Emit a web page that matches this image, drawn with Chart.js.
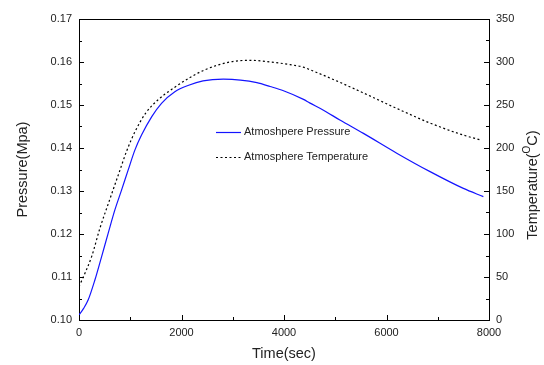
<!DOCTYPE html>
<html>
<head>
<meta charset="utf-8">
<script src="https://cdn.jsdelivr.net/npm/chart.js@4.4.0/dist/chart.umd.min.js"></script>
<style>
  html, body { margin: 0; padding: 0; background: #fff; }
  #wrap { width: 544px; height: 365px; }
</style>
</head>
<body>
<div id="wrap"><canvas id="chart" width="544" height="365"></canvas></div>
<script>
// === data ===
const timePressure = [0, 90, 180, 310, 440, 570, 700, 830, 960, 1090, 1220, 1420, 1610, 1870, 2140, 2420, 2815, 3150, 3470, 3730, 3990, 4380, 4500, 4770, 5090, 5550, 6200, 6850, 7500, 7890];
const pressure = [0.1012, 0.1027, 0.1047, 0.1093, 0.1147, 0.1202, 0.1256, 0.1302, 0.1349, 0.1395, 0.1430, 0.1473, 0.1504, 0.1531, 0.1546, 0.1556, 0.1560, 0.1558, 0.1552, 0.1543, 0.1533, 0.1513, 0.1505, 0.1488, 0.1465, 0.1434, 0.1388, 0.1345, 0.1306, 0.1287];

const timeTemp = [0, 84, 248, 410, 605, 780, 927, 1093, 1307, 1561, 1853, 2166, 2458, 2946, 3336, 3726, 4117, 4376, 4507, 5028, 5550, 6200, 6850, 7500, 7860];
const temperature = [39, 50, 74, 107, 141, 171, 196, 219, 241, 257, 270, 282, 291, 300, 302, 300, 297, 294, 291, 278, 264, 246, 229, 215, 209];

const xTicks = [0, 2000, 4000, 6000, 8000];
const pressureTicks = [0.10, 0.11, 0.12, 0.13, 0.14, 0.15, 0.16, 0.17];
const tempTicks = [0, 50, 100, 150, 200, 250, 300, 350];

const tickFont = { family: 'Liberation Sans, Arial, sans-serif', size: 11 };
const titleFont = { family: 'Liberation Sans, Arial, sans-serif', size: 14.5 };

function midpoints(arr) {
  const out = [];
  for (let i = 0; i < arr.length - 1; i++) out.push((arr[i] + arr[i + 1]) / 2);
  return out;
}

// inward ticks + frame top line
const frameTicks = {
  id: 'frameTicks',
  afterDraw(chart) {
    const ctx = chart.ctx;
    const a = chart.chartArea;
    ctx.save();
    ctx.strokeStyle = '#000';
    ctx.lineWidth = 1;
    ctx.beginPath();
    ctx.moveTo(a.left, a.top + 0.5);
    ctx.lineTo(a.right, a.top + 0.5);
    const sx = chart.scales.x;
    xTicks.forEach(v => { const p = Math.round(sx.getPixelForValue(v)) + 0.5; ctx.moveTo(p, a.bottom); ctx.lineTo(p, a.bottom - 5); });
    midpoints(xTicks).forEach(v => { const p = Math.round(sx.getPixelForValue(v)) + 0.5; ctx.moveTo(p, a.bottom); ctx.lineTo(p, a.bottom - 3); });
    const sy = chart.scales.y;
    pressureTicks.forEach(v => { const p = Math.round(sy.getPixelForValue(v)) + 0.5; ctx.moveTo(a.left, p); ctx.lineTo(a.left + 5, p); });
    midpoints(pressureTicks).forEach(v => { const p = Math.round(sy.getPixelForValue(v)) + 0.5; ctx.moveTo(a.left, p); ctx.lineTo(a.left + 3, p); });
    const sy1 = chart.scales.y1;
    tempTicks.forEach(v => { const p = Math.round(sy1.getPixelForValue(v)) + 0.5; ctx.moveTo(a.right, p); ctx.lineTo(a.right - 5, p); });
    midpoints(tempTicks).forEach(v => { const p = Math.round(sy1.getPixelForValue(v)) + 0.5; ctx.moveTo(a.right, p); ctx.lineTo(a.right - 3, p); });
    ctx.stroke();
    ctx.restore();
  }
};

// right axis title, read bottom-to-top, with superscript o
const rightTitle = {
  id: 'rightTitle',
  afterDraw(chart) {
    const ctx = chart.ctx;
    const big = '14.5px "Liberation Sans", Arial, sans-serif';
    const small = '10px "Liberation Sans", Arial, sans-serif';
    const parts = [['Temperature(', big, 0], ['O', small, -6], ['C)', big, 0]];
    ctx.save();
    let total = 0;
    parts.forEach(p => { ctx.font = p[1]; total += ctx.measureText(p[0]).width; });
    ctx.translate(533, 185);
    ctx.rotate(-Math.PI / 2);
    ctx.fillStyle = '#222';
    ctx.textBaseline = 'middle';
    let x = -total / 2;
    parts.forEach(p => { ctx.font = p[1]; ctx.fillText(p[0], x, p[2]); x += ctx.measureText(p[0]).width; });
    ctx.restore();
  }
};

// legend placed inside the plot, like the original
const innerLegend = {
  id: 'innerLegend',
  afterDraw(chart) {
    const ctx = chart.ctx;
    const a = chart.chartArea;
    const x0 = a.left + 137;
    let y = a.top + 112.5;
    ctx.save();
    ctx.font = '11px "Liberation Sans", Arial, sans-serif';
    ctx.textBaseline = 'middle';
    chart.data.datasets.forEach(ds => {
      ctx.strokeStyle = ds.borderColor;
      ctx.lineWidth = ds.borderWidth;
      ctx.setLineDash(ds.borderDash || []);
      ctx.beginPath();
      ctx.moveTo(x0, Math.round(y) + 0.5);
      ctx.lineTo(x0 + 25, Math.round(y) + 0.5);
      ctx.stroke();
      ctx.setLineDash([]);
      ctx.fillStyle = '#222';
      ctx.fillText(ds.label, x0 + 28, y);
      y += 25;
    });
    ctx.restore();
  }
};

new Chart(document.getElementById('chart').getContext('2d'), {
  type: 'line',
  data: {
    datasets: [
      {
        label: 'Atmoshpere Pressure',
        data: timePressure.map((t, i) => ({ x: t, y: pressure[i] })),
        borderColor: '#1414ff',
        borderWidth: 1.2,
        pointRadius: 0,
        cubicInterpolationMode: 'monotone',
        yAxisID: 'y'
      },
      {
        label: 'Atmosphere Temperature',
        data: timeTemp.map((t, i) => ({ x: t, y: temperature[i] })),
        borderColor: '#000',
        borderWidth: 1.2,
        borderDash: [2, 2.5],
        pointRadius: 0,
        cubicInterpolationMode: 'monotone',
        yAxisID: 'y1'
      }
    ]
  },
  options: {
    responsive: false,
    animation: false,
    layout: { padding: { top: 19, left: 0, right: 0, bottom: 0 } },
    plugins: {
      legend: { display: false },
      tooltip: { enabled: false }
    },
    scales: {
      x: {
        type: 'linear',
        min: 0,
        max: 8000,
        afterBuildTicks: s => { s.ticks = xTicks.map(v => ({ value: v })); },
        afterFit: s => { s.height = 45; },
        ticks: { color: '#222', font: tickFont, padding: 6, maxRotation: 0, autoSkip: false, callback: v => String(v) },
        grid: { display: false, drawTicks: false },
        border: { color: '#000', width: 1 },
        title: { display: true, text: 'Time(sec)', color: '#222', font: titleFont, padding: { top: 2, bottom: 2 } }
      },
      y: {
        type: 'linear',
        position: 'left',
        min: 0.10,
        max: 0.17,
        afterBuildTicks: s => { s.ticks = pressureTicks.map(v => ({ value: v })); },
        afterFit: s => { s.width = 79; },
        ticks: { color: '#222', font: tickFont, padding: 7, callback: v => v.toFixed(2) },
        grid: { display: false, drawTicks: false },
        border: { color: '#000', width: 1 },
        title: { display: true, text: 'Pressure(Mpa)', color: '#222', font: titleFont, padding: { top: 14, bottom: 0 } }
      },
      y1: {
        type: 'linear',
        position: 'right',
        min: 0,
        max: 350,
        afterBuildTicks: s => { s.ticks = tempTicks.map(v => ({ value: v })); },
        afterFit: s => { s.width = 55; },
        ticks: { color: '#222', font: tickFont, padding: 7 },
        grid: { display: false, drawTicks: false },
        border: { color: '#000', width: 1 }
      }
    }
  },
  plugins: [frameTicks, innerLegend, rightTitle]
});
</script>
</body>
</html>
